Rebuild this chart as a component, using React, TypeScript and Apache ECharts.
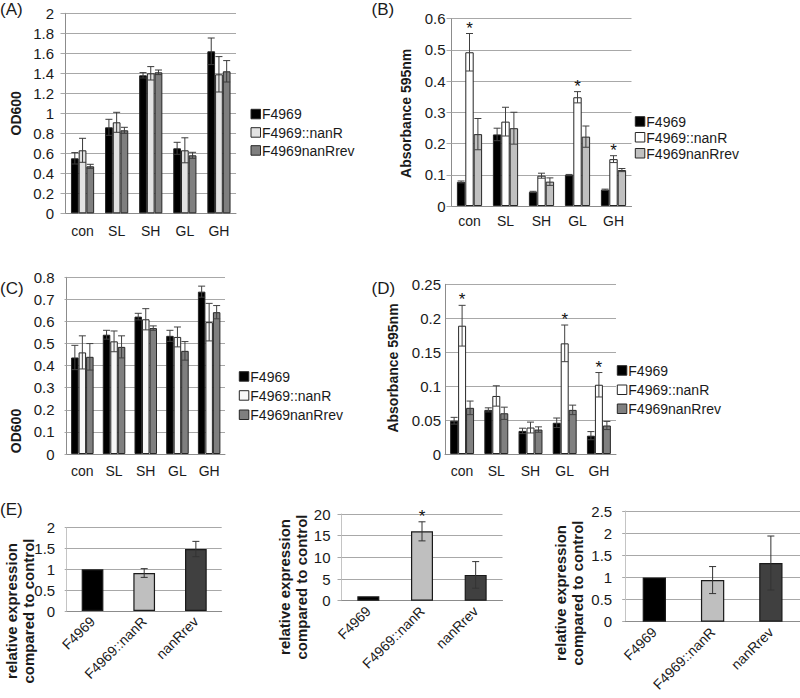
import React, { useEffect, useRef } from "react";
import * as echarts from "echarts";

const categories = ["con", "SL", "SH", "GL", "GH"];
const strains = ["F4969", "F4969::nanR", "F4969nanRrev"];
const eCategories = ["F4969", "F4969::nanR", "nanRrev"];

// Panel A – OD600
const aF4969 = [0.55, 0.86, 1.38, 0.65, 1.62];
const aF4969Err = [0.057, 0.08, 0.027, 0.06, 0.133];
const aNanR = [0.63, 0.91, 1.4, 0.63, 1.39];
const aNanRErr = [0.12, 0.1, 0.067, 0.125, 0.177];
const aRev = [0.47, 0.83, 1.41, 0.58, 1.42];
const aRevErr = [0.02, 0.03, 0.023, 0.03, 0.107];

// Panel B – Absorbance 595nm
const bF4969 = [0.077, 0.229, 0.045, 0.099, 0.052];
const bF4969Err = [0.003, 0.02, 0.002, 0.002, 0.002];
const bNanR = [0.492, 0.27, 0.097, 0.348, 0.15];
const bNanRErr = [0.06, 0.046, 0.008, 0.018, 0.011];
const bRev = [0.23, 0.249, 0.078, 0.222, 0.115];
const bRevErr = [0.05, 0.051, 0.012, 0.034, 0.005];
const bSig = [1, 0, 0, 1, 1];

// Panel C – OD600
const cF4969 = [0.437, 0.54, 0.622, 0.535, 0.735];
const cF4969Err = [0.055, 0.02, 0.015, 0.025, 0.025];
const cNanR = [0.46, 0.51, 0.61, 0.53, 0.597];
const cNanRErr = [0.075, 0.047, 0.048, 0.045, 0.085];
const cRev = [0.44, 0.485, 0.57, 0.467, 0.642];
const cRevErr = [0.06, 0.05, 0.01, 0.042, 0.03];

// Panel D – Absorbance 595nm
const dF4969 = [0.049, 0.065, 0.034, 0.046, 0.027];
const dF4969Err = [0.005, 0.003, 0.004, 0.007, 0.006];
const dNanR = [0.189, 0.0855, 0.039, 0.163, 0.102];
const dNanRErr = [0.03, 0.015, 0.008, 0.027, 0.018];
const dRev = [0.068, 0.06, 0.036, 0.065, 0.042];
const dRevErr = [0.01, 0.009, 0.004, 0.007, 0.006];
const dSig = [1, 0, 0, 1, 1];

// Panel E – relative expression
const e1Values = [1.0, 0.912, 1.488];
const e1Err = [0, 0.105, 0.184];
const e2Values = [1.0, 16.0, 5.95];
const e2Err = [0, 2.2, 3.07];
const e2Sig = [0, 1, 0];
const e3Values = [1.0, 0.94, 1.325];
const e3Err = [0, 0.305, 0.61];

const FONT = "'Liberation Sans', Arial, Helvetica, sans-serif";
const TXT = "#1a1a1a";
const AXIS = "#8c8c8c";
const GRIDC = "#a8a8a8";

function errRender(gap: number, n: number, pos: number, color: string, cap: number, starSize: number) {
  return (_params: any, api: any) => {
    const ci = api.value(0);
    const v = api.value(1);
    const e = api.value(2);
    const sig = api.value(3);
    const band = api.size([1, 0])[0];
    const bw = (band * (1 - gap)) / n;
    const base = api.coord([ci, v]);
    const x = base[0] + (pos - (n - 1) / 2) * bw;
    const yTop = api.coord([ci, v + e])[1];
    const yBot = api.coord([ci, Math.max(0, v - e)])[1];
    const children: any[] = [];
    if (e > 0) {
      const st = { stroke: color, lineWidth: 1 };
      children.push({ type: "line", shape: { x1: x, y1: yTop, x2: x, y2: yBot }, style: st });
      children.push({ type: "line", shape: { x1: x - cap, y1: yTop, x2: x + cap, y2: yTop }, style: st });
      children.push({ type: "line", shape: { x1: x - cap, y1: yBot, x2: x + cap, y2: yBot }, style: st });
    }
    if (sig) {
      children.push({
        type: "text",
        x: x,
        y: yTop + 3,
        style: {
          text: "*",
          fontSize: starSize,
          fontFamily: FONT,
          fill: "#111",
          textAlign: "center",
          align: "center",
          textVerticalAlign: "bottom",
          verticalAlign: "bottom",
        },
      });
    }
    return { type: "group", children };
  };
}

function groupedPanel(
  g: number,
  vals: number[][],
  errs: number[][],
  sigs: (number[] | null)[],
  colors: string[],
  gap: number,
  errColor: string
) {
  const series: any[] = [];
  vals.forEach((v, i) => {
    series.push({
      type: "bar",
      name: strains[i],
      xAxisIndex: g,
      yAxisIndex: g,
      data: v,
      barGap: "0%",
      barCategoryGap: gap * 100 + "%",
      itemStyle: { color: colors[i], borderColor: "#262626", borderWidth: 1 },
      z: 2,
    });
  });
  vals.forEach((v, i) => {
    const s = sigs[i];
    series.push({
      type: "custom",
      xAxisIndex: g,
      yAxisIndex: g,
      renderItem: errRender(gap, vals.length, i, errColor, 3.5, 17),
      data: v.map((val, ci) => [ci, val, errs[i][ci], s ? s[ci] : 0]),
      encode: { x: 0, y: 1 },
      z: 5,
      silent: true,
    });
  });
  return series;
}

const eColors = ["#000000", "#bfbfbf", "#404040"];

function ePanel(g: number, vals: number[], errs: number[], sig: number[] | null, gap: number) {
  return [
    {
      type: "bar",
      xAxisIndex: g,
      yAxisIndex: g,
      barCategoryGap: gap * 100 + "%",
      data: vals.map((v, i) => ({ value: v, itemStyle: { color: eColors[i] } })),
      itemStyle: { borderColor: "#1a1a1a", borderWidth: 1.2 },
      z: 2,
    },
    {
      type: "custom",
      xAxisIndex: g,
      yAxisIndex: g,
      renderItem: errRender(gap, 1, 0, "#333333", 3.5, 17),
      data: vals.map((v, ci) => [ci, v, errs[ci], sig ? sig[ci] : 0]),
      encode: { x: 0, y: 1 },
      z: 5,
      silent: true,
    },
  ];
}

function catAxis(g: number, data: string[], margin: number, rotate = 0, fontSize = 14) {
  return {
    type: "category",
    gridIndex: g,
    data,
    axisLine: { show: true, lineStyle: { color: AXIS } },
    axisTick: { show: false },
    splitLine: { show: false },
    axisLabel: { fontFamily: FONT, fontSize, color: TXT, margin, rotate, interval: 0 },
  };
}

function valAxis(g: number, max: number, interval: number, margin: number, tick: number, fontSize = 15, lineColor = AXIS) {
  return {
    type: "value",
    gridIndex: g,
    min: 0,
    max,
    interval,
    axisLine: { show: true, lineStyle: { color: lineColor } },
    axisTick: { show: tick > 0, length: tick, lineStyle: { color: GRIDC } },
    splitLine: { show: true, lineStyle: { color: GRIDC, width: 1 } },
    axisLabel: { fontFamily: FONT, fontSize, color: TXT, margin },
  };
}

function legend(x: number, ys: number[], colors: string[]) {
  const els: any[] = [];
  strains.forEach((s, i) => {
    els.push({
      type: "rect",
      shape: { x: x, y: ys[i] - 5, width: 9.5, height: 9.5 },
      style: { fill: colors[i], stroke: "#262626", lineWidth: 1 },
    });
    els.push({
      type: "text",
      x: x + 11,
      y: ys[i],
      style: { text: s, font: `14px ${FONT}`, fill: TXT, textVerticalAlign: "middle" },
    });
  });
  return els;
}

function label(text: string, x: number, y: number, size = 17) {
  return {
    type: "text",
    x,
    y,
    style: { text, font: `${size}px ${FONT}`, fill: TXT, textVerticalAlign: "middle" },
  };
}

function yTitle(text: string, x: number, y: number, size = 14, lh = 16) {
  return {
    type: "text",
    x,
    y,
    rotation: Math.PI / 2,
    style: {
      text,
      font: `bold ${size}px ${FONT}`,
      fill: TXT,
      textAlign: "center",
      textVerticalAlign: "middle",
      lineHeight: lh,
    },
  };
}

export default function App() {
  const ref = useRef<HTMLDivElement>(null);
  useEffect(() => {
    if (!ref.current) return;
    const chart = echarts.init(ref.current, undefined, { renderer: "svg" });
    const colA = ["#000000", "#e2e2e2", "#7f7f7f"];
    const colB = ["#000000", "#ffffff", "#c0c0c0"];
    const colC = ["#000000", "#f7f7f7", "#7f7f7f"];
    const colD = ["#000000", "#ffffff", "#808080"];
    const option: any = {
      animation: false,
      backgroundColor: "#ffffff",
      grid: [
        { left: 65.5, top: 13.3, width: 170.5, height: 200 },
        { left: 451.5, top: 18.5, width: 180, height: 187.5 },
        { left: 66.5, top: 277.3, width: 158.5, height: 176.7 },
        { left: 445, top: 284.3, width: 171, height: 169.7 },
        { left: 66.7, top: 527.7, width: 155, height: 83.3 },
        { left: 341.5, top: 514, width: 161, height: 86.7 },
        { left: 625.2, top: 511, width: 174.8, height: 110.7 },
      ],
      xAxis: [
        catAxis(0, categories, 10.5),
        catAxis(1, categories, 8),
        catAxis(2, categories, 10),
        catAxis(3, categories, 10),
        catAxis(4, eCategories, 8, 45, 14),
        catAxis(5, eCategories, 8, 45, 14),
        catAxis(6, eCategories, 8, 45, 14),
      ],
      yAxis: [
        valAxis(0, 2, 0.2, 11.5, 5),
        valAxis(1, 0.6, 0.1, 6, 5),
        valAxis(2, 0.8, 0.1, 12, 2),
        valAxis(3, 0.25, 0.05, 4, 0),
        valAxis(4, 2, 0.5, 11.5, 2, 15, "#c4c4c4"),
        valAxis(5, 20, 5, 11, 4, 15, "#c4c4c4"),
        valAxis(6, 2.5, 0.5, 13, 3, 15, "#c4c4c4"),
      ],
      series: [
        ...groupedPanel(0, [aF4969, aNanR, aRev], [aF4969Err, aNanRErr, aRevErr], [null, null, null], colA, 0.32, "#3a3a3a"),
        ...groupedPanel(1, [bF4969, bNanR, bRev], [bF4969Err, bNanRErr, bRevErr], [null, bSig, null], colB, 0.3, "#404040"),
        ...groupedPanel(2, [cF4969, cNanR, cRev], [cF4969Err, cNanRErr, cRevErr], [null, null, null], colC, 0.29, "#404040"),
        ...groupedPanel(3, [dF4969, dNanR, dRev], [dF4969Err, dNanRErr, dRevErr], [null, dSig, null], colD, 0.3, "#404040"),
        ...ePanel(4, e1Values, e1Err, null, 0.58),
        ...ePanel(5, e2Values, e2Err, e2Sig, 0.59),
        ...ePanel(6, e3Values, e3Err, null, 0.6),
      ],
      graphic: [
        label("(A)", 0, 9.5),
        label("(B)", 371.5, 9.5),
        label("(C)", 0, 288),
        label("(D)", 371.5, 288),
        label("(E)", 0, 509),
        yTitle("OD600", 16, 113.3),
        yTitle("Absorbance 595nm", 406, 113.3),
        yTitle("OD600", 16, 431),
        yTitle("Absorbance 595nm", 393, 368),
        yTitle("relative expression\ncompared to control", 19.5, 611, 15, 17),
        yTitle("relative expression\ncompared to control", 293, 587, 15, 17),
        yTitle("relative expression\ncompared to control", 568.5, 593, 15, 17),
        ...legend(251, [114.3, 132.7, 150.7], colA),
        ...legend(635.3, [121.7, 137.5, 153.5], colB),
        ...legend(239.3, [376.7, 395.7, 415], colC),
        ...legend(617.3, [370.7, 390, 409], colD),
      ],
    };
    chart.setOption(option);
    return () => chart.dispose();
  }, []);
  return (
    <div
      ref={ref}
      style={{ position: "absolute", left: 0, top: 0, width: 800, height: 698, background: "#fff" }}
    />
  );
}
